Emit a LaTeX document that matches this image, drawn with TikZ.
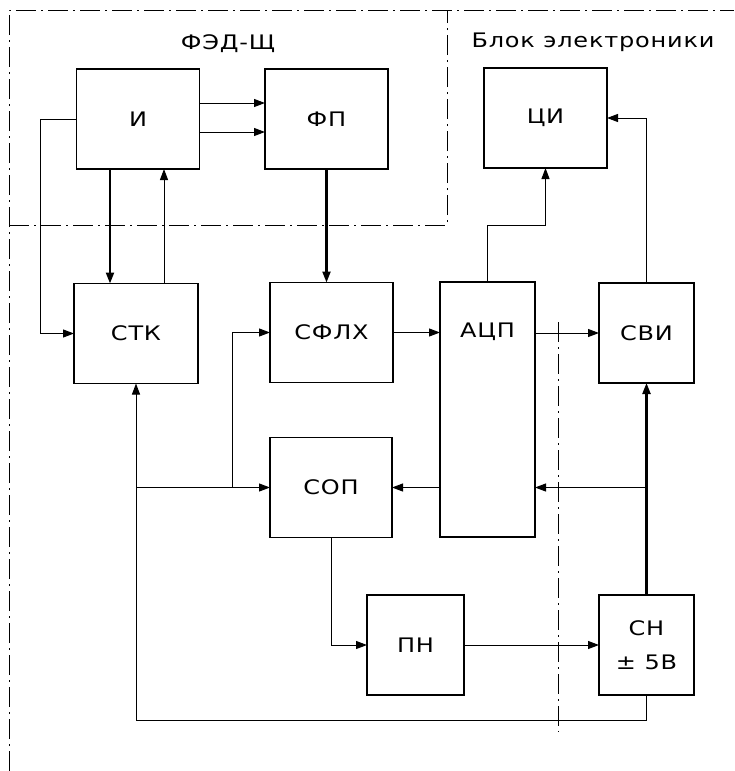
\documentclass[tikz,border=0pt]{standalone}
\usepackage{fontspec}
\setmainfont{DejaVu Sans}[FakeStretch=1.2,LetterSpace=4]
\usetikzlibrary{arrows.meta}
\begin{document}
\begin{tikzpicture}[x={(1pt,0pt)},y={(0pt,-1pt)},
  every node/.style={font=\fontsize{20}{24}\selectfont, inner sep=0pt, outer sep=0pt},
  blk/.style={draw, line width=1.3pt, minimum width=123pt, minimum height=100pt},
  narrow/.style={blk, minimum width=95pt},
  wire/.style={line width=1pt, -{Triangle[length=11pt,width=8pt]}},
  bus/.style={wire, line width=2.2pt},
  frame/.style={line width=1pt, dash pattern=on 20pt off 5pt on 2pt off 5pt}]

\useasboundingbox (0,0) rectangle (734,771);

\draw[frame] (9,771) -- (9,10) -- (734,10);
\draw[frame] (9,225) -- (447,225) -- (447,10);
\draw[frame] (558,322) -- (558,732);

\node (fed) at (228,44) {ФЭД-Щ};
\node (blok) at (593,42) {Блок электроники};

\node[blk] (I) at (138,119) {И};
\node[blk] (FP) at (326.5,119) {ФП};
\node[blk] (CI) at (545.5,118) {ЦИ};
\node[blk, minimum width=124pt] (STK) at (136,333.5) {СТК};
\node[blk] (SFLH) at (331.5,332.5) {СФЛХ};
\node[narrow, minimum height=255pt, label={[anchor=center,label distance=-50pt]north:АЦП}] (ADC) at (487.5,409.5) {};
\node[narrow] (SVI) at (646.5,333) {СВИ};
\node[blk, minimum width=122pt] (COP) at (331,487.5) {СОП};
\node[narrow, minimum width=97pt] (PN) at (415.5,645) {ПН};
\node[narrow, align=center, font=\fontsize{20}{34}\selectfont] (SN) at (646.5,645) {СН\\± 5В};

\coordinate (pwrL) at (STK.south |- COP.west);
\coordinate (pwrR) at (SN.north |- COP.east);
\coordinate (br) at (232,487.5);

\draw[wire] ([yshift=16pt]I.east) -- ([yshift=16pt]I.east -| FP.west);
\draw[wire] ([yshift=-13pt]I.east) -- ([yshift=-13pt]I.east -| FP.west);
\draw[wire] (I.west) -- ++(-36,0) |- (STK.west);
\draw[bus] ([xshift=-28pt]I.south) -- ([xshift=-28pt]I.south |- STK.north);
\draw[wire] ([xshift=28pt]STK.north) -- ([xshift=28pt]STK.north |- I.south);
\draw[bus] (FP.south) -- (FP.south |- SFLH.north);
\draw[wire] (SFLH.east) -- (SFLH.east -| ADC.west);
\draw[wire] (SVI.west -| ADC.east) -- (SVI.west);
\draw[wire] (ADC.north) -- ++(0,-57) -| (CI.south);
\draw[wire] (SVI.north) |- (CI.east);
\draw[bus] (SN.north) -- (SVI.south);
\draw[wire] (pwrR) -- (pwrR -| ADC.east);
\draw[wire] (COP.east -| ADC.west) -- (COP.east);
\draw[wire] (SN.south) -- ++(0,25) -| (STK.south);
\draw[wire] (pwrL) -- (COP.west);
\draw[wire] (br) |- (SFLH.west);
\draw[wire] (COP.south) |- (PN.west);
\draw[wire] (PN.east) -- (SN.west);
\end{tikzpicture}
\end{document}
